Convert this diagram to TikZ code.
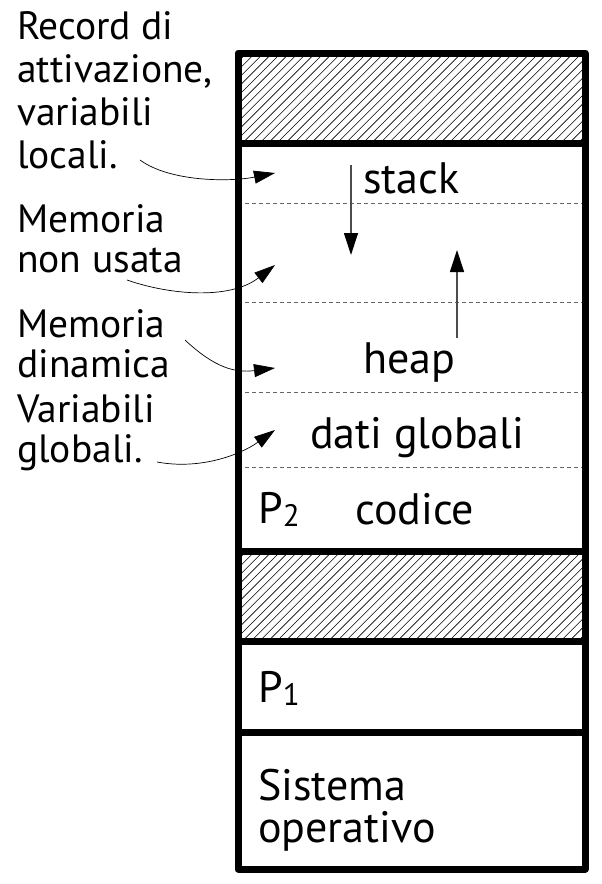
\documentclass[tikz,border=0pt]{standalone}
\usepackage{fontspec}
\setmainfont{PT Sans}
\usetikzlibrary{arrows.meta}

\newcommand{\subidx}[1]{\raisebox{-3pt}{\fontsize{31}{31}\selectfont #1}}

\begin{document}
\begin{tikzpicture}[x=1pt,y=-1pt,
    lbl/.style={anchor=base west,inner sep=0pt,align=left,
      font=\fontsize{39.5}{40}\selectfont},
    seg/.style={anchor=base west,inner sep=0pt,font=\fontsize{44}{42}\selectfont},
    wall/.style={line width=7pt,line join=round},
    dashsep/.style={gray!80!black,line width=0.8pt,dash pattern=on 4pt off 3pt},
    hatch/.style={line width=0.6pt},
    notearrow/.style={line width=0.7pt,-{Triangle[length=21pt,width=13pt]}},
    growarrow/.style={gray!60!black,line width=1.2pt,
      -{Triangle[length=22pt,width=14pt,color=black]}}]
  \useasboundingbox (0,0) rectangle (602,884);

  % Free (hatched) areas
  \begin{scope}
    \clip (238,53) rectangle (585,143) (238,551) rectangle (585,641);
    \foreach \i in {0,...,51} {
      \draw[hatch] (148+\i*8.6,143) -- ++(90,-90);
      \draw[hatch] (148+\i*8.6,641) -- ++(90,-90);
    }
  \end{scope}

  % Sections of P2
  \foreach \y in {203,302,392,467}
    \draw[dashsep] (238,\y) -- (585,\y);

  % Memory column
  \draw[wall] (238,53) rectangle (585,869);
  \foreach \y in {143,551,641,732}
    \draw[wall] (238,\y) -- (585,\y);

  % Labels inside the column
  \node[seg] (stk) at (363,193) {stack};
  \node[seg] (hp)  at (363,373) {heap};
  \node[seg] (dat) at (310,448) {dati globali};
  \node[seg] (p2)  at (258,523) {P\subidx{2}};
  \node[seg] (cod) at (355,524) {codice};
  \node[seg] (p1)  at (258,702) {P\subidx{1}};
  \node[seg,align=left] (so) at (258,842) {Sistema\\operativo};

  % Growth of stack and heap
  \coordinate (stktop) at (351,165);
  \coordinate (stkend) at (351,255);
  \coordinate (hpbot) at (457,338);
  \coordinate (hpend) at (457,250);
  \draw[growarrow] (stktop) -- (stkend);
  \draw[growarrow] (hpbot) -- (hpend);

  % Notes on the left
  \node[lbl,font=\fontsize{39.5}{42.7}\selectfont] (rec) at (17,168)
    {Record di\\attivazione,\\variabili\\locali.};
  \node[lbl] (free) at (17,272) {Memoria\\non usata};
  \node[lbl] (dyn) at (17,377) {Memoria\\dinamica};
  \node[lbl] (glob) at (17,462) {Variabili\\globali.};

  \coordinate (rec0) at (140,160);
  \coordinate (rec1) at (275,173);
  \coordinate (free0) at (127,280);
  \coordinate (free1) at (275,265);
  \coordinate (dyn0) at (185,340);
  \coordinate (dyn1) at (275,368);
  \coordinate (glob0) at (157,462);
  \coordinate (glob1) at (275,430);
  \draw[notearrow] (rec0) .. controls (170,182) and (230,182) .. (rec1);
  \draw[notearrow] (free0) .. controls (170,295) and (230,300) .. (free1);
  \draw[notearrow] (dyn0) .. controls (215,368) and (235,373) .. (dyn1);
  \draw[notearrow] (glob0) .. controls (200,470) and (240,455) .. (glob1);
\end{tikzpicture}
\end{document}
